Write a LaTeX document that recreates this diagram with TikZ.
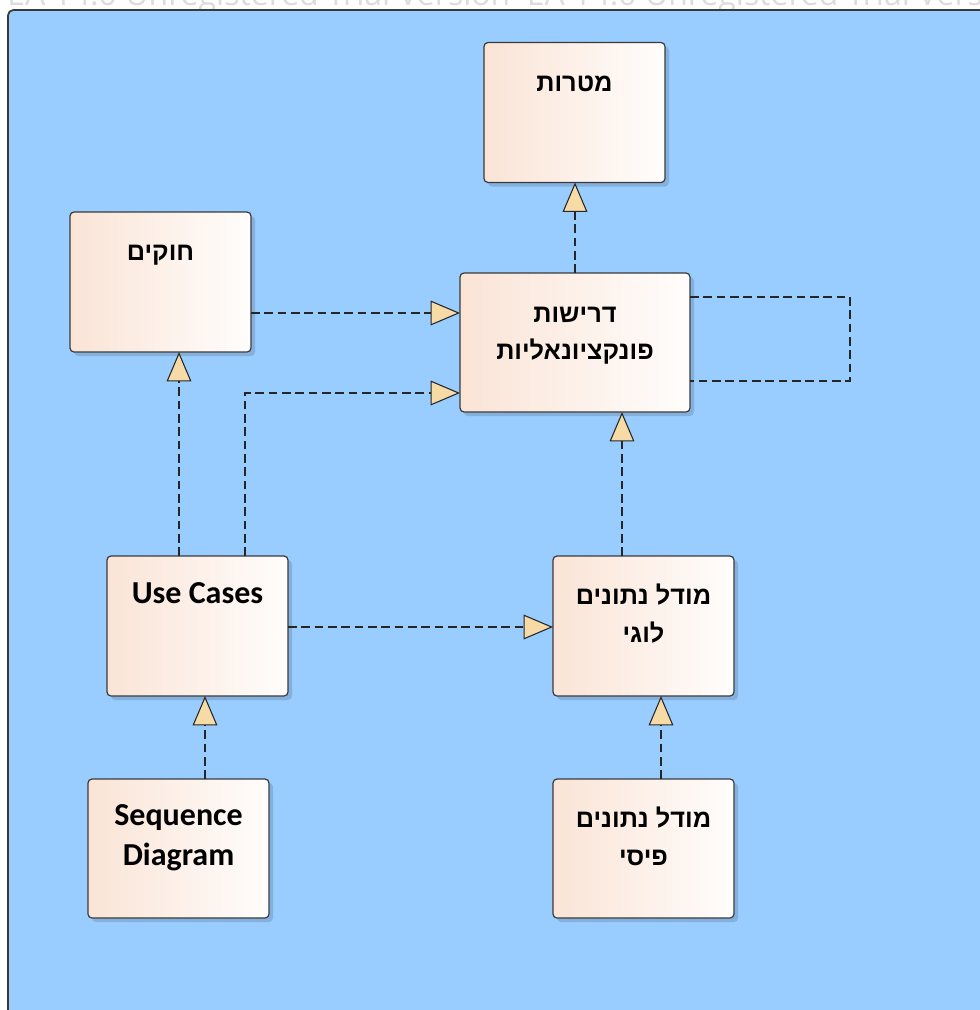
\documentclass[tikz,border=0pt]{standalone}
\usepackage{fontspec}
\setmainfont{Carlito}
\newfontfamily\heb[Script=Hebrew]{Liberation Sans}
\newfontfamily\wmfont{Open Sans}
\TeXXeTstate=1
\usetikzlibrary{arrows.meta,shadows,calc}
\definecolor{bgblue}{HTML}{99CCFF}
\definecolor{boxdraw}{HTML}{3A3A3A}
\definecolor{peachL}{HTML}{FAE4D6}
\definecolor{peachR}{HTML}{FFFDFC}
\definecolor{tipfill}{HTML}{F7DBA7}
\definecolor{linec}{HTML}{262626}
\definecolor{wmgray}{HTML}{DCDCDC}
\definecolor{shadowc}{HTML}{7FA9D6}
\tikzset{
  box/.style={draw=boxdraw, line width=0.9pt, rounded corners=3pt,
    left color=peachL, right color=peachR, inner sep=0pt, outer sep=0pt,
    minimum width=135.75pt, minimum height=105pt,
    drop shadow={shadow xshift=3pt, shadow yshift=-3pt, fill=shadowc, opacity=0.8}},
  dep/.style={draw=linec, line width=0.9pt, dash pattern=on 6.5pt off 3.5pt,
    -{Triangle[length=22pt,width=18.5pt,fill=tipfill,line width=0.8pt]}},
  loopline/.style={draw=linec, line width=0.9pt, dash pattern=on 6.5pt off 3.5pt},
  lat/.style={anchor=base, inner sep=0pt, font=\fontsize{24}{28}\selectfont\bfseries},
  hb/.style={anchor=base, inner sep=0pt, font=\heb\fontsize{19}{23}\selectfont\bfseries},
}
\begin{document}
\begin{tikzpicture}[x=0.75pt,y=-0.75pt]
\useasboundingbox (0,0) rectangle (979,1010);
\fill[white] (0,0) rectangle (979,1010);
% watermark
\node[anchor=base west, inner sep=0pt, text=wmgray, font=\wmfont\fontsize{24}{28}\selectfont] (wm) at (7,6) {EA 14.0 Unregistered Trial Version\ \ EA 14.0 Unregistered Trial Version};
% frame
\draw[fill=bgblue, draw=boxdraw, line width=1.3pt, rounded corners=4pt] (8,10) rectangle (1000,1030);

% boxes
\node[box] (goals) at (574.5,112.5) {};
\node[box] (laws) at (160.5,282) {};
\node[box, minimum width=172.5pt, minimum height=104.25pt] (req) at (575,342.5) {};
\node[box] (uc) at (197.5,626) {};
\node[box] (logical) at (643.5,626) {};
\node[box, minimum height=104.25pt] (seq) at (178.5,848.5) {};
\node[box, minimum height=104.25pt] (phys) at (643.5,848.5) {};

% texts
\node[hb] (tgoals) at ($(goals.north)+(0,49)$) {\beginR מטרות\endR};
\node[hb] (tlaws) at ($(laws.north)+(0,48)$) {\beginR חוקים\endR};
\node[hb] (treq1) at ($(req.north)+(0,49)$) {\beginR דרישות\endR};
\node[hb] (treq2) at ($(req.north)+(0,86)$) {\beginR פונקציונאליות\endR};
\node[lat] (tuc) at ($(uc.north)+(0,47)$) {Use Cases};
\node[hb] (tlog1) at ($(logical.north)+(0,48)$) {\beginR מודל נתונים\endR};
\node[hb] (tlog2) at ($(logical.north)+(0,86)$) {\beginR לוגי\endR};
\node[lat] (tseq1) at ($(seq.north)+(0,46)$) {Sequence};
\node[lat] (tseq2) at ($(seq.north)+(0,86)$) {Diagram};
\node[hb] (tphys1) at ($(phys.north)+(0,48)$) {\beginR מודל נתונים\endR};
\node[hb] (tphys2) at ($(phys.north)+(0,86)$) {\beginR פיסי\endR};

% connectors
\draw[dep] (req.north) -- (req.north |- goals.south);
\draw[dep] (laws.east |- 0,313) -- (req.west |- 0,313);
\draw[dep] (uc.north -| 245,0) -- (245,393) -- (req.west |- 0,393);
\draw[dep] (uc.north -| 179,0) -- (laws.south -| 179,0);
\draw[loopline] (req.east |- 0,297) -- (850,297) -- (850,381) -- (req.east |- 0,381);
\draw[dep] (logical.north -| 622,0) -- (req.south -| 622,0);
\draw[dep] (uc.east |- 0,627) -- (logical.west |- 0,627);
\draw[dep] (seq.north -| 205,0) -- (uc.south -| 205,0);
\draw[dep] (phys.north -| 661,0) -- (logical.south -| 661,0);
\end{tikzpicture}
\end{document}
